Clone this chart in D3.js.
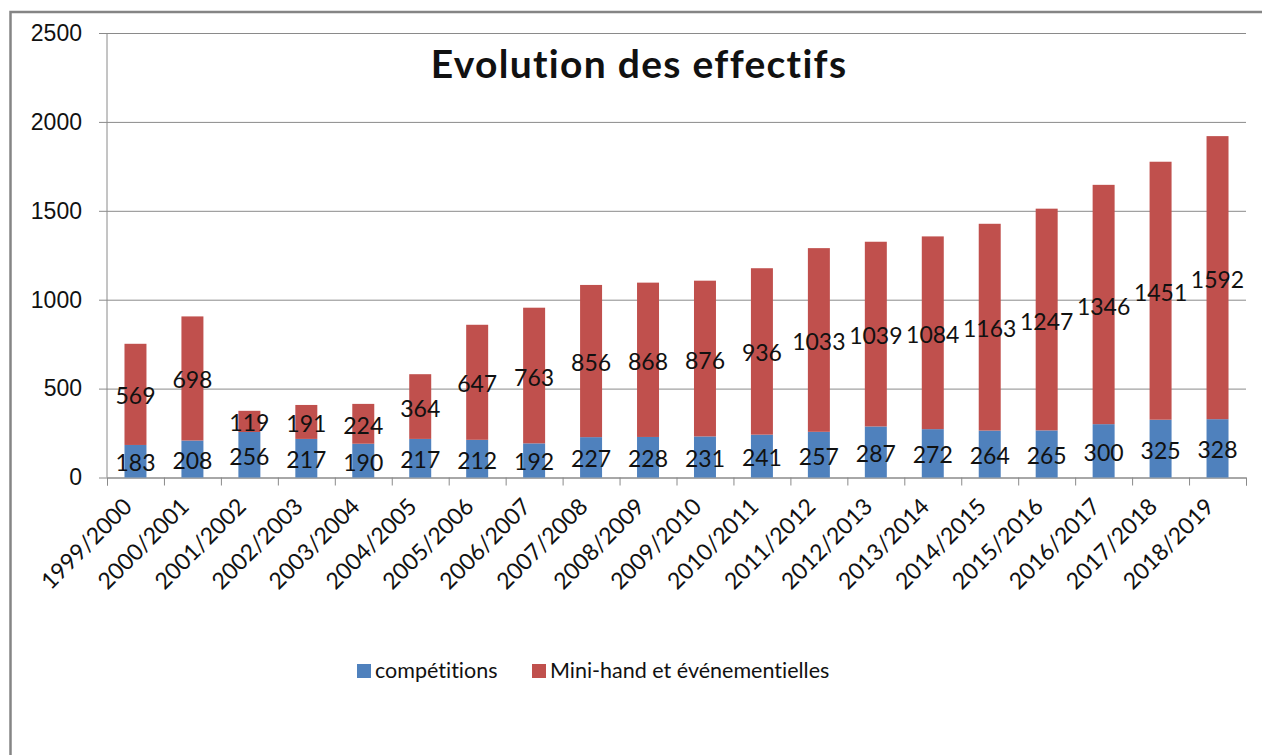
<!DOCTYPE html>
<html>
<head>
<meta charset="utf-8">
<script src="https://cdn.jsdelivr.net/npm/d3@7"></script>
<style>
    body { margin: 0; background: #fff; }
    svg { display: block; font-family: Lato, "Open Sans", sans-serif; font-variant-ligatures: none; }
    .grid line { stroke: #8a8a8a; }
    .grid text, .x-labels text, .value { fill: #111; font-size: 23px; }
</style>
</head>
<body>
<svg id="chart"></svg>
<script>
'use strict';

const width = 1262;
const height = 755;

const categories = ['1999/2000', '2000/2001', '2001/2002', '2002/2003', '2003/2004', '2004/2005',
    '2005/2006', '2006/2007', '2007/2008', '2008/2009', '2009/2010', '2010/2011', '2011/2012',
    '2012/2013', '2013/2014', '2014/2015', '2015/2016', '2016/2017', '2017/2018', '2018/2019'];
const competitions = [183, 208, 256, 217, 190, 217, 212, 192, 227, 228, 231, 241, 257, 287, 272, 264, 265, 300, 325, 328];
const miniHand = [569, 698, 119, 191, 224, 364, 647, 763, 856, 868, 876, 936, 1033, 1039, 1084, 1163, 1247, 1346, 1451, 1592];
const yTicks = [0, 500, 1000, 1500, 2000, 2500];
const seriesNames = ['compétitions', 'Mini-hand et événementielles'];
const seriesColors = ['#4f81bd', '#c0504d'];

const plot = {left: 107, right: 1246, top: 33, bottom: 477.5};

const svg = d3.select('#chart').attr('width', width).attr('height', height);

// frame of the chart object (only left and top edges are inside the picture)
svg.append('rect')
    .attr('x', 10.5).attr('y', 12)
    .attr('width', width + 20).attr('height', height + 20)
    .attr('fill', 'none')
    .attr('stroke', '#858585')
    .attr('stroke-width', 2.5);

svg.append('text')
    .attr('x', 639).attr('y', 78)
    .attr('text-anchor', 'middle')
    .attr('font-size', 39)
    .attr('font-weight', 'bold')
    .attr('letter-spacing', 1.3)
    .attr('fill', '#111')
    .text('Evolution des effectifs');

const x = d3.scaleBand()
    .domain(categories)
    .range([plot.left, plot.right])
    .paddingInner(0.614)
    .paddingOuter(0.307);

const xTicks = d3.scaleLinear()
    .domain([0, categories.length])
    .range([plot.left, plot.right]);

const y = d3.scaleLinear()
    .domain([0, 2500])
    .range([plot.bottom, plot.top]);

// horizontal grid + y labels
const grid = svg.append('g')
    .attr('class', 'grid')
    .attr('transform', `translate(${plot.left - 8}, 0)`)
    .call(d3.axisLeft(y)
        .tickValues(yTicks)
        .tickFormat(d3.format('d'))
        .tickSize(-(plot.right - plot.left + 8))
        .tickPadding(17));
grid.select('.domain').remove();
grid.selectAll('text').attr('font-family', null).attr('font-size', null);

// vertical axis line
svg.append('line')
    .attr('x1', plot.left).attr('x2', plot.left)
    .attr('y1', y(2500)).attr('y2', y(0))
    .attr('stroke', '#8a8a8a');

// category boundary ticks
const xAxis = svg.append('g')
    .attr('class', 'grid')
    .attr('transform', `translate(0, ${plot.bottom})`)
    .call(d3.axisBottom(xTicks).tickValues(d3.range(categories.length + 1)).tickSize(8).tickFormat(''));
xAxis.select('.domain').attr('stroke', '#8a8a8a');

// category labels, rotated
svg.append('g')
    .attr('class', 'x-labels')
    .selectAll('text')
    .data(categories)
    .join('text')
    .attr('text-anchor', 'end')
    .attr('transform', d => `translate(${x(d) + x.bandwidth() / 2 - 2}, 508) rotate(-45)`)
    .text(d => d);

const rows = categories.map((c, i) => ({category: c, competitions: competitions[i], miniHand: miniHand[i]}));
const stacked = d3.stack().keys(['competitions', 'miniHand'])(rows);

const layers = svg.append('g')
    .selectAll('g')
    .data(stacked)
    .join('g')
    .attr('fill', (d, i) => seriesColors[i]);

layers.selectAll('rect')
    .data(d => d)
    .join('rect')
    .attr('x', d => x(d.data.category))
    .attr('width', x.bandwidth())
    .attr('y', d => y(d[1]))
    .attr('height', d => y(d[0]) - y(d[1]));

layers.selectAll('text')
    .data(d => d)
    .join('text')
    .attr('class', 'value')
    .attr('text-anchor', 'middle')
    .attr('dominant-baseline', 'central')
    .attr('x', d => x(d.data.category) + x.bandwidth() / 2)
    .attr('y', d => y((d[0] + d[1]) / 2) + 1)
    .text(d => d[1] - d[0]);

// legend
const legend = svg.append('g').attr('transform', 'translate(357, 664)');
const legendX = [0, 175];
seriesNames.forEach((name, i) => {
    legend.append('rect')
        .attr('x', legendX[i]).attr('y', 0)
        .attr('width', 14).attr('height', 14)
        .attr('fill', seriesColors[i]);
    legend.append('text')
        .attr('x', legendX[i] + 18).attr('y', 14)
        .attr('font-size', 21.5)
        .attr('fill', '#111')
        .text(name);
});
</script>
</body>
</html>
